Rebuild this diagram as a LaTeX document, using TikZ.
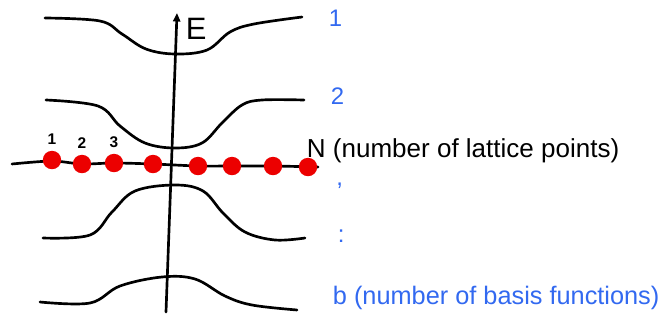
\documentclass[tikz,border=0pt]{standalone}
\usepackage{fontspec}
\setsansfont{Liberation Sans}
\definecolor{basisblue}{RGB}{50,105,240}
\definecolor{sitered}{RGB}{236,0,0}
\usetikzlibrary{arrows.meta, positioning}

\begin{document}
\begin{tikzpicture}[x=0.025cm, y=-0.025cm,
    band/.style={line width=1.9pt, line cap=round, line join=round},
    site/.style={circle, fill=sitered, minimum size=4.6mm, inner sep=0pt},
    sitenum/.style={font=\sffamily\bfseries\fontsize{11}{12}\selectfont, inner sep=1pt},
    bandnum/.style={text=basisblue, font=\sffamily\fontsize{17}{18}\selectfont, anchor=west},
    note/.style={font=\sffamily\fontsize{18.5}{20}\selectfont, anchor=base west},
  ]
    \useasboundingbox (0,0) rectangle (667,324);

    % energy axis
    \coordinate (axbot) at (166,312);
    \coordinate (axtop) at (177,13);
    \draw[band, -{Triangle[length=6pt, width=5pt]}] (axbot) -- (axtop);
    \node[font=\sffamily\fontsize{22}{24}\selectfont, anchor=west] (elab) at (181,29) {E};

    % bands
    \draw[band] plot[smooth, tension=0.6] coordinates {(45,18) (100,21) (122,34) (146,49) (175,54) (207,50) (230,32) (254,24) (302,17)};
    \draw[band] plot[smooth, tension=0.6] coordinates {(46,100) (98,106) (120,126) (145,143) (175,148) (202,143) (222,123) (242,105) (262,100) (304,100)};
    \draw[band] plot[smooth, tension=0.6] coordinates {(43,238) (90,235) (112,212) (135,191) (175,185) (203,191) (223,213) (245,232) (275,240) (305,238)};
    \draw[band] plot[smooth, tension=0.6] coordinates {(40,302) (90,303) (120,286) (162,277) (195,279) (225,296) (252,305) (297,310)};

    % lattice
    \draw[band] plot[smooth, tension=0.5] coordinates {(12,164) (52,161) (82,164) (114,163) (153,164) (198,166) (232,166) (273,166) (318,167)};
    \node[site] (s1) at (52,160) {};
    \node[site] (s2) at (82,164) {};
    \node[site] (s3) at (114,163) {};
    \node[site] (s4) at (153,164) {};
    \node[site] (s5) at (198,166) {};
    \node[site] (s6) at (232,166) {};
    \node[site] (s7) at (273,166) {};
    \node[site] (s8) at (308,167) {};
    \node[sitenum, above=3pt of s1] (n1) {1};
    \node[sitenum, above=3pt of s2] (n2) {2};
    \node[sitenum, above=3pt of s3] (n3) {3};
    \node[note] (nlab) at (302,157) {N (number of lattice points)};

    % basis function labels
    \node[bandnum] (b1) at (324,18) {1};
    \node[bandnum] (b2) at (326,96) {2};
    \node[bandnum, inner sep=0pt] (bc) at (336,186) {,};
    \node[bandnum] (bd) at (333,236) {:};
    \node[bandnum, font=\sffamily\fontsize{18}{20}\selectfont] (bb) at (328,298) {b (number of basis functions)};
\end{tikzpicture}
\end{document}
